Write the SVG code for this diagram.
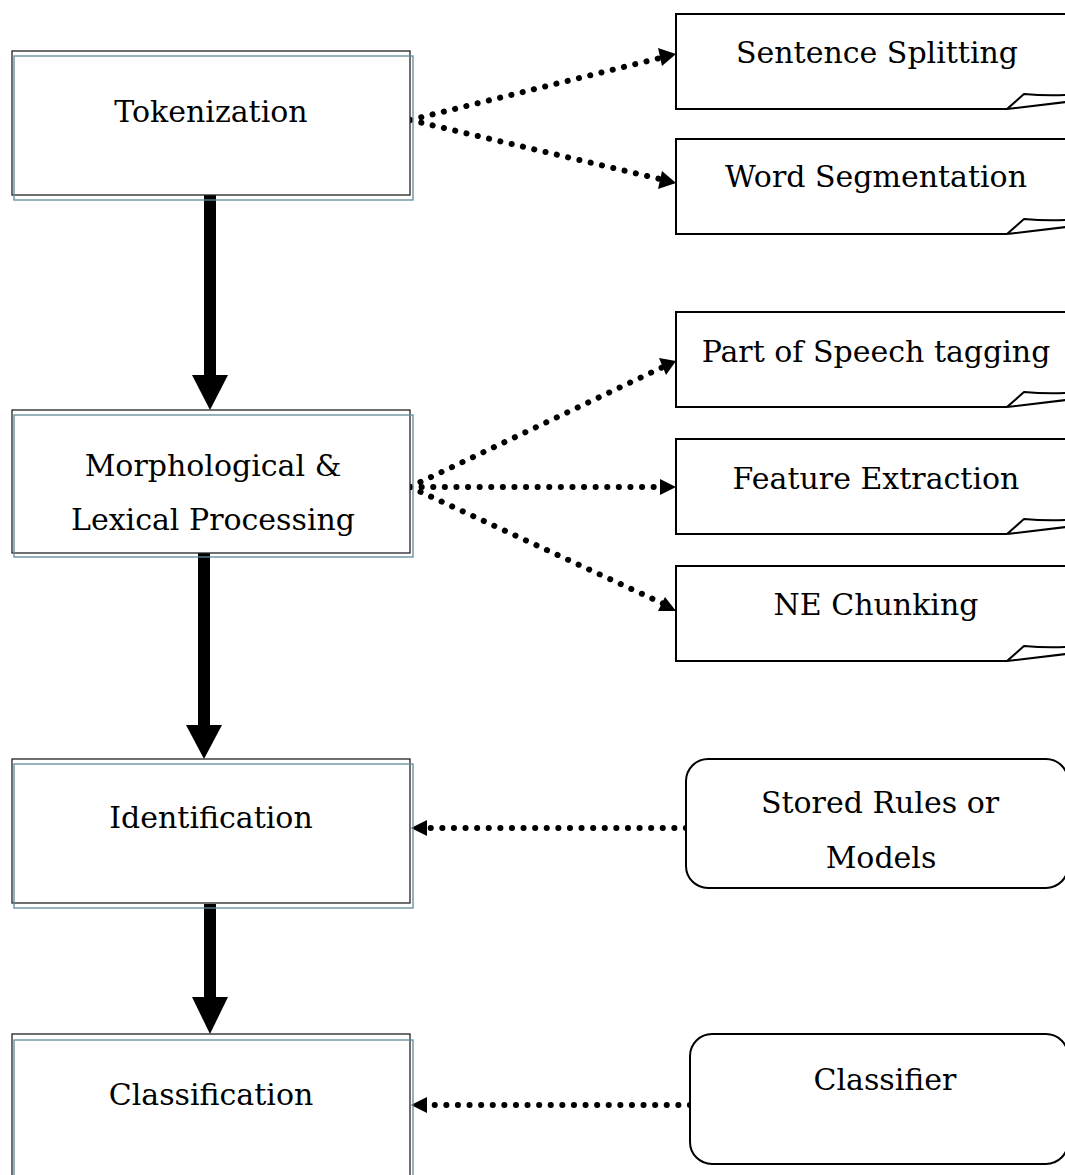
<svg xmlns="http://www.w3.org/2000/svg" width="1065" height="1175" viewBox="0 0 1065 1175">
<style>
  text { font-family: "DejaVu Serif", "Liberation Serif", serif; font-size: 30px; fill: #000; text-anchor: middle; }
  .outer { fill: #fff; stroke: #222; stroke-width: 1.3; }
  .inner { fill: none; stroke: #5f8a98; stroke-width: 1.3; }
  .note { fill: #fff; stroke: #000; stroke-width: 2; }
  .fold { fill: #fff; stroke: #000; stroke-width: 2; stroke-linejoin: round; }
  .round { fill: #fff; stroke: #000; stroke-width: 2; }
  .dot { fill: none; stroke: #000; stroke-width: 6; stroke-linecap: round; stroke-dasharray: 0.1 11.5; }
  .thick { fill: none; stroke: #000; stroke-width: 12; }
  .head { fill: #000; }
</style>

<g id="connectors">
  <path class="thick" d="M210,195 V378" />
  <path class="head" d="M192,375 L228,375 L210,410 Z"/>
  <path class="thick" d="M204,553 V728" />
  <path class="head" d="M186,725 L222,725 L204,759 Z"/>
  <path class="thick" d="M210,904 V1000" />
  <path class="head" d="M192,997 L228,997 L210,1034 Z"/>

  <line class="dot" x1="410" y1="120" x2="664" y2="57" />
  <path class="head" d="M658,48 L676,54 L662,66 Z"/>
  <line class="dot" x1="410" y1="120" x2="664" y2="180" />
  <path class="head" d="M662,171 L676,183 L658,189 Z"/>

  <line class="dot" x1="410" y1="487" x2="663" y2="367" />
  <path class="head" d="M659,358 L676,361 L666,375 Z"/>
  <line class="dot" x1="410" y1="487" x2="660" y2="487" />
  <path class="head" d="M660,479 L676,487 L660,495 Z"/>
  <line class="dot" x1="410" y1="487" x2="664" y2="604" />
  <path class="head" d="M665,597 L676,611 L658,611 Z"/>

  <line class="dot" x1="686" y1="828" x2="427" y2="828" />
  <path class="head" d="M427,820 L411,828 L427,836 Z"/>
  <line class="dot" x1="690" y1="1105" x2="427" y2="1105" />
  <path class="head" d="M427,1097 L411,1105 L427,1113 Z"/>
</g>

<g id="tokenization">
  <rect class="outer" x="12" y="51" width="398" height="144"/>
  <rect class="inner" x="14" y="56" width="399" height="144"/>
  <text x="211" y="122">Tokenization</text>
</g>
<g id="morphological">
  <rect class="outer" x="12" y="410" width="398" height="143"/>
  <rect class="inner" x="14" y="415" width="399" height="142"/>
  <text x="213" y="476">Morphological &amp;</text>
  <text x="213" y="530">Lexical Processing</text>
</g>
<g id="identification">
  <rect class="outer" x="12" y="759" width="398" height="144"/>
  <rect class="inner" x="14" y="764" width="399" height="144"/>
  <text x="211" y="828">Identification</text>
</g>
<g id="classification">
  <rect class="outer" x="12" y="1034" width="398" height="150"/>
  <rect class="inner" x="14" y="1040" width="399" height="150"/>
  <text x="211" y="1105">Classification</text>
</g>

<g id="sentence-splitting">
  <path class="note" d="M1070,14 H676 V109 H1007"/>
  <path class="fold" d="M1007,109 L1024,94 Q1045,96 1066,95 M1007,109 L1066,102"/>
  <text x="877" y="63">Sentence Splitting</text>
</g>
<g id="word-segmentation">
  <path class="note" d="M1070,139 H676 V234 H1007"/>
  <path class="fold" d="M1007,234 L1024,219 Q1045,221 1066,220 M1007,234 L1066,227"/>
  <text x="876" y="187">Word Segmentation</text>
</g>
<g id="pos-tagging">
  <path class="note" d="M1070,312 H676 V407 H1007"/>
  <path class="fold" d="M1007,407 L1024,392 Q1045,394 1066,393 M1007,407 L1066,400"/>
  <text x="876" y="362">Part of Speech tagging</text>
</g>
<g id="feature-extraction">
  <path class="note" d="M1070,439 H676 V534 H1007"/>
  <path class="fold" d="M1007,534 L1024,519 Q1045,521 1066,520 M1007,534 L1066,527"/>
  <text x="876" y="489">Feature Extraction</text>
</g>
<g id="ne-chunking">
  <path class="note" d="M1070,566 H676 V661 H1007"/>
  <path class="fold" d="M1007,661 L1024,646 Q1045,648 1066,647 M1007,661 L1066,654"/>
  <text x="876" y="615">NE Chunking</text>
</g>

<g id="stored-rules">
  <rect class="round" x="686" y="759" width="382" height="129" rx="22"/>
  <text x="880" y="813">Stored Rules or</text>
  <text x="881" y="868">Models</text>
</g>
<g id="classifier">
  <rect class="round" x="690" y="1034" width="378" height="130" rx="22"/>
  <text x="885" y="1090">Classifier</text>
</g>
</svg>
